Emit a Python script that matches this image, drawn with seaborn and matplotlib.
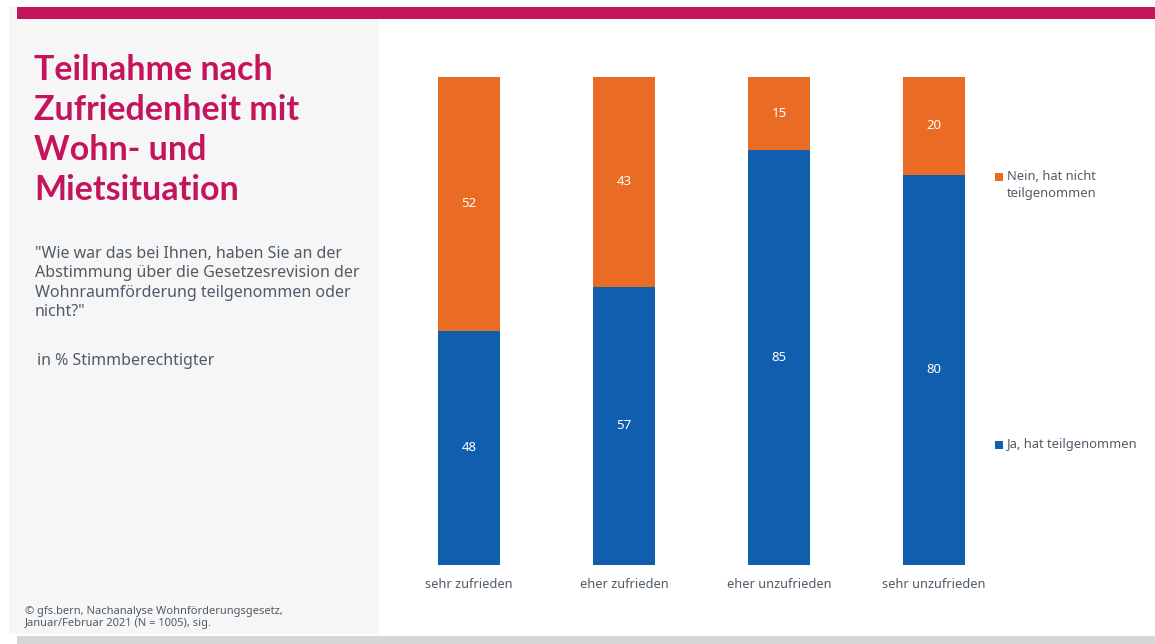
import matplotlib
matplotlib.use("Agg")
import matplotlib.pyplot as plt
from matplotlib.patches import Rectangle
import seaborn as sns
import pandas as pd

# Survey results (percent of eligible voters)
categories = ["sehr zufrieden", "eher zufrieden", "eher unzufrieden", "sehr unzufrieden"]
ja_values = [48, 57, 85, 80]
nein_values = [52, 43, 15, 20]
series_labels = ["Ja, hat teilgenommen", "Nein, hat nicht\nteilgenommen"]

title = "Teilnahme nach\nZufriedenheit mit\nWohn- und\nMietsituation"
question = ("\"Wie war das bei Ihnen, haben Sie an der\n"
            "Abstimmung über die Gesetzesrevision der\n"
            "Wohnraumförderung teilgenommen oder\n"
            "nicht?\"")
unit_note = "in % Stimmberechtigter"
source = "© gfs.bern, Nachanalyse Wohnförderungsgesetz,\nJanuar/Februar 2021 (N = 1005), sig."

BLUE = "#0F5FAE"
ORANGE = "#E96B24"
MAGENTA = "#C4145C"
TEXT = "#4F5B66"
PANEL = "#F6F6F6"

sns.set_theme(style="white")
plt.rcParams["font.family"] = ["Noto Sans", "DejaVu Sans"]

W, H = 1155, 644
fig = plt.figure(figsize=(W / 100, H / 100), dpi=100)
fig.patch.set_facecolor("white")

def fx(px):
    return px / W

def fy(py):
    return 1 - py / H

# Left grey info panel, top accent stripe, bottom rule
fig.add_artist(Rectangle((fx(9), fy(634)), fx(379 - 9), fy(7) - fy(634),
                         transform=fig.transFigure, facecolor=PANEL, edgecolor="none", zorder=0))
fig.add_artist(Rectangle((fx(17), fy(19)), 1 - fx(17), fy(7) - fy(19),
                         transform=fig.transFigure, facecolor=MAGENTA, edgecolor="none", zorder=1))
fig.add_artist(Rectangle((fx(17), 0), 1 - fx(17), fy(636),
                         transform=fig.transFigure, facecolor="#D6D6D6", edgecolor="none", zorder=1))

# Panel text
fig.text(fx(34), fy(54), title, ha="left", va="top", fontsize=24.5, fontweight="bold",
         family=["Lato", "DejaVu Sans"], color=MAGENTA, linespacing=1.31)
fig.text(fx(35), fy(246), question, ha="left", va="top", fontsize=11.5, color=TEXT,
         linespacing=1.28)
fig.text(fx(37), fy(353), unit_note, ha="left", va="top", fontsize=11.5, color=TEXT)
fig.text(fx(25), fy(606), source, ha="left", va="top", fontsize=8, color=TEXT,
         linespacing=1.1)

# Stacked bar chart
df = pd.DataFrame({
    "Kategorie": categories,
    "Ja": ja_values,
    "Nein": nein_values,
})
df["Total"] = df["Ja"] + df["Nein"]

ax = fig.add_axes([fx(391.5), fy(565), fx(620), fy(77) - fy(565)])
ax.set_facecolor("none")
sns.barplot(data=df, x="Kategorie", y="Total", color=ORANGE, width=0.4,
            saturation=1, ax=ax, linewidth=0)
sns.barplot(data=df, x="Kategorie", y="Ja", color=BLUE, width=0.4,
            saturation=1, ax=ax, linewidth=0)

for i, (ja, nein) in enumerate(zip(ja_values, nein_values)):
    ax.text(i, ja / 2, f"{ja}", ha="center", va="center", color="white", fontsize=9.5)
    ax.text(i, ja + nein / 2, f"{nein}", ha="center", va="center", color="white", fontsize=9.5)

ax.set_xlim(-0.5, 3.5)
ax.set_ylim(0, 100)
ax.set_xlabel("")
ax.set_ylabel("")
ax.set_yticks([])
ax.tick_params(axis="x", length=0, pad=9, labelsize=9.2, labelcolor=TEXT)
for s in ax.spines.values():
    s.set_visible(False)

# Legend entries placed beside the bars
legend_items = [(series_labels[1], ORANGE, 177), (series_labels[0], BLUE, 445)]
for label, color, ypx in legend_items:
    fig.add_artist(Rectangle((fx(995), fy(ypx + 4)), fx(8), fy(0) - fy(8),
                             transform=fig.transFigure, facecolor=color, edgecolor="none"))
    fig.text(fx(1007), fy(ypx - 7), label, ha="left", va="top", fontsize=9.3,
             color=TEXT, linespacing=1.4)

fig.savefig("out.png", dpi=100)
